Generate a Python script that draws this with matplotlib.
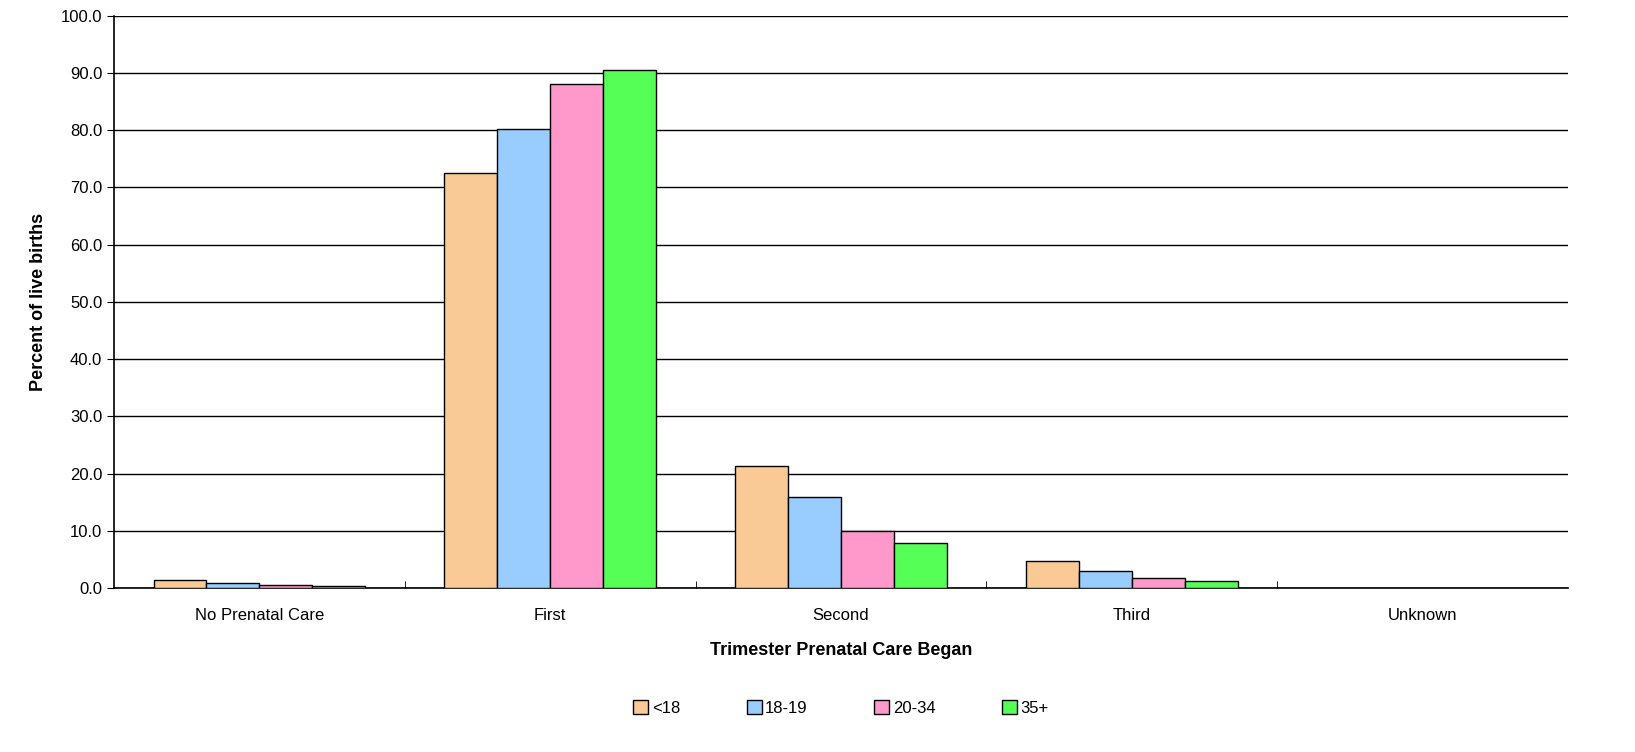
import numpy as np
import matplotlib.pyplot as plt

categories = ["No Prenatal Care", "First", "Second", "Third", "Unknown"]
series = ["<18", "18-19", "20-34", "35+"]
under18 = [1.4, 72.6, 21.3, 4.8, 0.0]
age18_19 = [0.9, 80.3, 15.9, 3.0, 0.0]
age20_34 = [0.5, 88.0, 9.9, 1.8, 0.0]
age35 = [0.4, 90.6, 7.8, 1.3, 0.0]
colors = ["#FACA96", "#99CCFF", "#FF99CC", "#55FF55"]

plt.rcParams['font.family'] = ['Liberation Sans', 'DejaVu Sans']
fig = plt.figure(figsize=(16.35, 7.52), dpi=100)
ax = fig.add_axes([0.0697, 0.218, 0.8893, 0.761])

x = np.arange(len(categories))
w = 0.182
for i, vals in enumerate([under18, age18_19, age20_34, age35]):
    vals = np.array(vals)
    keep = vals > 0
    ax.bar(x[keep] + (i - 1.5) * w, vals[keep], w, color=colors[i], edgecolor="black",
           linewidth=1, label=series[i], zorder=3)

ax.set_xlim(-0.5, len(categories) - 0.5)
ax.set_ylim(0, 100)
ax.set_yticks(np.arange(0, 101, 10))
ax.set_yticklabels([f"{v:.1f}" for v in range(0, 101, 10)], fontsize=12)
ax.set_xticks(x)
ax.set_xticklabels(categories, fontsize=12)
ax.set_xticks(np.arange(0.5, len(categories) - 0.5), minor=True)
ax.tick_params(axis="x", which="major", length=0, pad=14)
ax.tick_params(axis="x", which="minor", length=5, direction="in")
ax.tick_params(axis="y", direction="out", length=5)
ax.yaxis.grid(True, color="black", linewidth=1, zorder=0)
ax.spines["right"].set_visible(False)
ax.spines["top"].set_visible(False)
for s in ["left", "bottom"]:
    ax.spines[s].set_linewidth(1.2)

ax.set_xlabel("Trimester Prenatal Care Began", fontsize=13, fontweight="bold", labelpad=14)
ax.set_ylabel("Percent of live births", fontsize=13, fontweight="bold", labelpad=10)
ax.legend(loc="upper center", bbox_to_anchor=(0.5, -0.17), ncol=4, frameon=False,
          fontsize=12, handlelength=0.9, handleheight=0.9, handletextpad=0.2,
          columnspacing=4)

fig.savefig("out.png", dpi=100)
